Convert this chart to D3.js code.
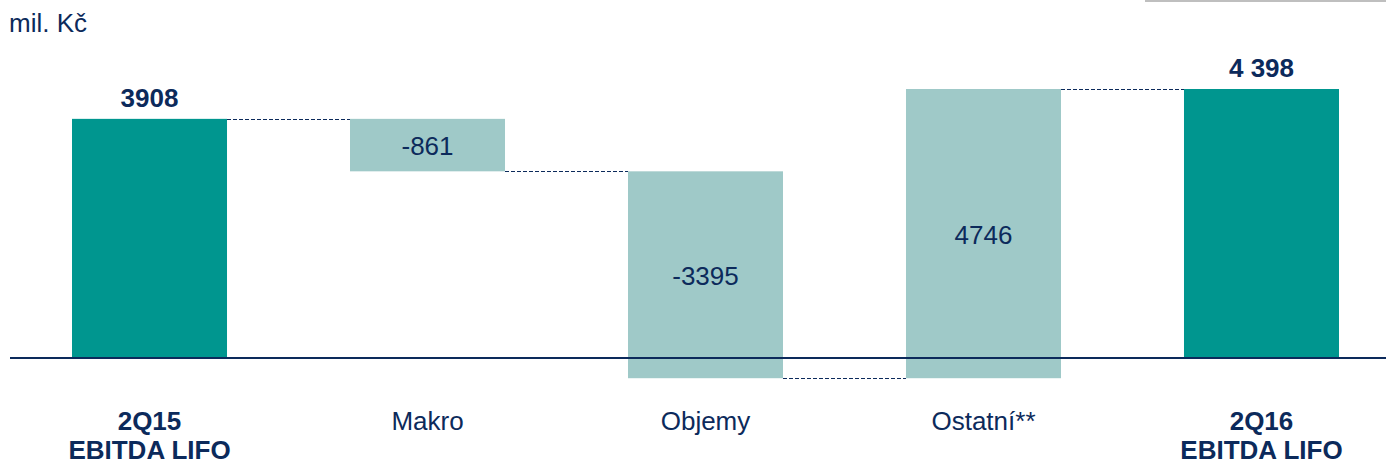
<!DOCTYPE html>
<html>
<head>
<meta charset="utf-8">
<script src="https://cdn.jsdelivr.net/npm/d3@7"></script>
<style>
  html, body { margin: 0; padding: 0; background: #fff; }
  svg { display: block; font-family: "Liberation Sans", Arial, sans-serif; }
</style>
</head>
<body>
<script>
// waterfall data
const categories = ['2Q15|EBITDA LIFO', 'Makro', 'Objemy', 'Ostatní**', '2Q16|EBITDA LIFO'];
const values = [3908, -861, -3395, 4746, 4398];
const valueLabels = ['3908', '-861', '-3395', '4746', '4 398'];
const isTotal = [true, false, false, false, true];

const W = 1386, H = 465;
const navy = '#0c2a5b';
const teal = '#00968f';
const lightTeal = '#9fc9c8';

const svg = d3.select('body').append('svg')
    .attr('width', W).attr('height', H);

const x = d3.scaleBand()
    .domain(categories)
    .range([72, 1339])
    .paddingInner(0.4424)
    .paddingOuter(0);

const y = d3.scaleLinear()
    .domain([0, 4398])
    .range([357, 89]);

// compute start/end of each bar
let run = 0;
const bars = categories.map(function (c, i) {
    let start, end;
    if (isTotal[i]) {
        start = 0; end = values[i]; run = values[i];
    } else {
        start = run; end = run + values[i]; run = end;
    }
    return {cat: c, start: start, end: end, total: isTotal[i], label: valueLabels[i]};
});

// top-right rule
svg.append('line')
    .attr('x1', 1145).attr('x2', W)
    .attr('y1', 1).attr('y2', 1)
    .style('stroke', '#bfbfbf').style('stroke-width', 2);

svg.append('text')
    .attr('x', 9).attr('y', 32)
    .style('font-size', '26px').style('fill', navy)
    .text('mil. Kč');

// connectors
for (let i = 0; i < bars.length - 1; i += 1) {
    const lvl = bars[i].end;
    svg.append('line')
        .attr('x1', x(bars[i].cat) + x.bandwidth())
        .attr('x2', x(bars[i + 1].cat))
        .attr('y1', Math.round(y(lvl)) + 0.5).attr('y2', Math.round(y(lvl)) + 0.5)
        .style('stroke', navy).style('stroke-width', 1)
        .style('stroke-dasharray', '4,2');
}

svg.selectAll('rect.bar').data(bars).enter().append('rect')
    .attr('class', 'bar')
    .attr('x', d => x(d.cat))
    .attr('width', x.bandwidth())
    .attr('y', d => y(Math.max(d.start, d.end)))
    .attr('height', d => Math.abs(y(d.start) - y(d.end)))
    .style('fill', d => d.total ? teal : lightTeal);

// axis line
svg.append('line')
    .attr('x1', 10).attr('x2', W)
    .attr('y1', y(0) + 1).attr('y2', y(0) + 1)
    .style('stroke', navy).style('stroke-width', 2);

// value labels
svg.selectAll('text.val').data(bars).enter().append('text')
    .attr('class', 'val')
    .attr('x', d => x(d.cat) + x.bandwidth() / 2)
    .attr('y', d => d.total ? y(d.end) - 12 : (y(d.start) + y(d.end)) / 2 + 10)
    .attr('text-anchor', 'middle')
    .style('font-size', '26px')
    .style('font-weight', d => d.total ? 'bold' : 'normal')
    .style('fill', navy)
    .text(d => d.label);

// category labels
const cat = svg.selectAll('text.cat').data(bars).enter().append('text')
    .attr('class', 'cat')
    .attr('x', d => x(d.cat) + x.bandwidth() / 2)
    .attr('y', 430)
    .attr('text-anchor', 'middle')
    .style('font-size', '26px')
    .style('font-weight', d => d.total ? 'bold' : 'normal')
    .style('fill', navy);

cat.each(function (d) {
    const parts = d.cat.split('|');
    d3.select(this).selectAll('tspan').data(parts).enter().append('tspan')
        .attr('x', x(d.cat) + x.bandwidth() / 2)
        .attr('dy', (p, i) => i === 0 ? 0 : 29)
        .text(p => p);
});
</script>
</body>
</html>
